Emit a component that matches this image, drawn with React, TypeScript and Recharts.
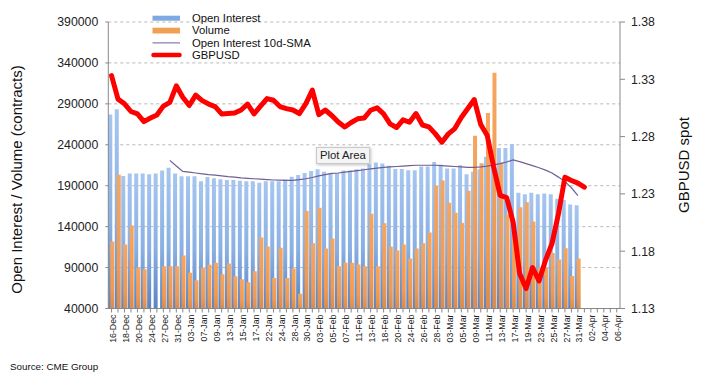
import React from 'react';
import { ComposedChart, Bar, Line, XAxis, YAxis, CartesianGrid } from 'recharts';

const FONT = '"Liberation Sans", Arial, Helvetica, sans-serif';

const dates = [
  '16-Dec','17-Dec','18-Dec','19-Dec','20-Dec','23-Dec','24-Dec','26-Dec','27-Dec','30-Dec','31-Dec',
  '02-Jan','03-Jan','06-Jan','07-Jan','08-Jan','09-Jan','10-Jan','13-Jan','14-Jan','15-Jan','16-Jan','17-Jan','21-Jan','22-Jan','23-Jan','24-Jan','27-Jan','28-Jan','29-Jan','30-Jan','31-Jan',
  '03-Feb','04-Feb','05-Feb','06-Feb','07-Feb','10-Feb','11-Feb','12-Feb','13-Feb','14-Feb','18-Feb','19-Feb','20-Feb','21-Feb','24-Feb','25-Feb','26-Feb','27-Feb','28-Feb',
  '02-Mar','03-Mar','04-Mar','05-Mar','06-Mar','09-Mar','10-Mar','11-Mar','12-Mar','13-Mar','16-Mar','17-Mar','18-Mar','19-Mar','20-Mar','23-Mar','24-Mar','25-Mar','26-Mar','27-Mar','30-Mar','31-Mar',
  '01-Apr','02-Apr','03-Apr','04-Apr','05-Apr','06-Apr'
];

const openInterest = [
  277000, 283500, 202000, 205000, 205000, 205000, 204000, 205000, 208500, 212000,
  205000, 201500, 201500, 201500, 195500, 200500, 199000, 198000, 197000, 197000,
  196000, 195500, 195500, 193500, 195500, 195500, 195500, 197500, 201000, 203000,
  205500, 208000, 210000, 207000, 205500, 205500, 208500, 208500, 210000, 211000,
  216000, 218500, 217000, 214500, 210500, 210500, 209000, 209000, 213500, 213500,
  219000, 215500, 211000, 211000, 215000, 204000, 207000, 210000, 225500, 229000,
  236000, 236000, 241000, 181500, 179500, 181500, 179500, 180500, 179500, 174000,
  172500, 167000, 166000
];

const volume = [
  121900, 203400, 118200, 141300, 89900, 87800, null, null, 91500, 91500,
  91500, 104800, 83800, 74400, 89900, 93500, 96000, 81700, 95100, 79300,
  75600, 72000, 85400, 126700, 115800, 77300, 114200, 77300, 89000, 58000,
  159200, 119800, 163200, 113400, 125500, 91500, 96000, 96000, 93900, 91500,
  155900, 91500, 144100, 115800, 110900, 118200, 101200, 113400, 119800, 132800,
  190400, 196400, 169300, 157100, 144500, 184000, 251000, 217400, 278900, 328100,
  218300, 155000, 130000, 163600, 169700, 146200, 90000, 89400, 107700, 100000,
  113700, 79700, 101200
];

const oiSma10 = [
  null, null, null, null, null, null, null, null, null, 221000,
  214000, 207500, 206500, 205500, 204500, 203500, 203000, 202000, 201000, 200500,
  199500, 199000, 198500, 198000, 197500, 197000, 196800, 196500, 196500, 197500,
  198500, 200000, 202000, 203500, 205000, 205500, 206500, 207500, 208500, 209500,
  210500, 211500, 212500, 213000, 213500, 214000, 214500, 215000, 215000, 215000,
  215000, 214500, 214000, 213500, 213000, 212500, 212500, 213000, 214000, 215500,
  217000, 219000, 221500, 219500, 217000, 214500, 212000, 209000, 205500, 200500,
  195000, 187500, 178000
];

const gbpusd = [
  1.3332, 1.3127, 1.3086, 1.3019, 1.2998, 1.2931, 1.2962, 1.2988, 1.3066, 1.3099,
  1.3243, 1.3143, 1.3071, 1.3162, 1.3114, 1.3084, 1.3062, 1.2998, 1.3001, 1.3005,
  1.3032, 1.3084, 1.2998, 1.3066, 1.3132, 1.3117, 1.3062, 1.3044, 1.3032, 1.3001,
  1.3088, 1.3206, 1.2992, 1.3032, 1.2984, 1.2927, 1.2884, 1.2923, 1.2955, 1.2962,
  1.3030, 1.3051, 1.2998, 1.2911, 1.2879, 1.2946, 1.2925, 1.3001, 1.2901, 1.2885,
  1.2824, 1.2751, 1.2824, 1.2870, 1.2966, 1.3045, 1.3123, 1.2905, 1.2809, 1.2533,
  1.2287, 1.2267, 1.2054, 1.1605, 1.1474, 1.1657, 1.1540, 1.1721, 1.1866, 1.2127,
  1.2446, 1.2417, 1.2394, 1.2359
];

const leftTicks = [40000, 90000, 140000, 190000, 240000, 290000, 340000, 390000];
const rightTicks = [1.13, 1.18, 1.23, 1.28, 1.33, 1.38];

const legendItems = [
  { label: 'Open Interest', kind: 'oi' },
  { label: 'Volume', kind: 'vol' },
  { label: 'Open Interest 10d-SMA', kind: 'sma' },
  { label: 'GBPUSD', kind: 'fx' },
];

const data = dates.map((d, i) => ({
  date: d,
  oi: openInterest[i] ?? null,
  vol: volume[i] ?? null,
  sma: oiSma10[i] ?? null,
  fx: gbpusd[i] ?? null,
}));

const XTick = (props: any) => {
  const { x, y, payload } = props;
  const idx = payload && typeof payload.index === 'number' ? payload.index : dates.indexOf(payload.value);
  if (idx % 2 !== 0) return <g />;
  const ax = x + 4.6;
  const ay = y;
  return (
    <text x={ax} y={ay} transform={`rotate(-90 ${ax} ${ay})`} textAnchor="end" fontSize={8.8} fill="#222" fontFamily={FONT}>
      {payload.value}
    </text>
  );
};

export default function App() {
  const legendRows = [22, 34.3, 46.7, 58.7];
  return (
    <div style={{ position: 'absolute', left: 0, top: 0, width: 701, height: 383, background: '#fff', fontFamily: FONT, overflow: 'hidden' }}>
      <svg width={0} height={0} style={{ position: 'absolute' }}>
        <defs>
          <linearGradient id="oiGrad" x1="0" y1="0" x2="0" y2="1">
            <stop offset="0%" stopColor="#a6c6f0" />
            <stop offset="55%" stopColor="#8ab0e4" />
            <stop offset="100%" stopColor="#5a84c2" />
          </linearGradient>
          <linearGradient id="volGrad" x1="0" y1="0" x2="0" y2="1">
            <stop offset="0%" stopColor="#f6a660" />
            <stop offset="70%" stopColor="#f09a52" />
            <stop offset="100%" stopColor="#d98c50" />
          </linearGradient>
        </defs>
      </svg>
      <ComposedChart
        width={701}
        height={383}
        data={data}
        margin={{ top: 22, right: 26, bottom: 14.5, left: 48.3 }}
        barCategoryGap={0}
        barGap={-2}
      >
        <CartesianGrid yAxisId="left" vertical={false} stroke="#b8b8b8" strokeDasharray="3 3" />
        <XAxis
          dataKey="date"
          interval={0}
          height={60}
          tick={<XTick />}
          tickSize={4}
          tickLine={{ stroke: '#888' }}
          axisLine={{ stroke: '#888' }}
        />
        <YAxis
          yAxisId="left"
          width={60}
          domain={[40000, 390000]}
          ticks={leftTicks}
          allowDataOverflow
          interval={0}
          tickSize={3}
          tickMargin={7}
          tick={{ fontSize: 12.3, fill: '#222', fontFamily: FONT }}
          axisLine={{ stroke: '#888' }}
          tickLine={{ stroke: '#888' }}
        />
        <YAxis
          yAxisId="right"
          orientation="right"
          width={55}
          domain={[1.13, 1.38]}
          ticks={rightTicks}
          allowDataOverflow
          interval={0}
          tickFormatter={(v: number) => v.toFixed(2)}
          tickSize={5}
          tickMargin={6}
          tick={{ fontSize: 12.3, fill: '#222', fontFamily: FONT }}
          axisLine={{ stroke: '#888' }}
          tickLine={{ stroke: '#888' }}
        />
        <Bar yAxisId="left" dataKey="oi" fill="url(#oiGrad)" isAnimationActive={false} />
        <Bar yAxisId="left" dataKey="vol" fill="url(#volGrad)" isAnimationActive={false} />
        <Line yAxisId="left" type="linear" dataKey="sma" stroke="#6f5f96" strokeWidth={1.2} dot={false} activeDot={false} isAnimationActive={false} />
        <Line yAxisId="right" type="linear" dataKey="fx" stroke="#ff0000" strokeWidth={5} strokeLinejoin="round" strokeLinecap="round" dot={false} activeDot={false} isAnimationActive={false} />
      </ComposedChart>
      <svg width={701} height={383} style={{ position: 'absolute', left: 0, top: 0, pointerEvents: 'none' }} fontFamily={FONT}>
        {legendItems.map((it, i) => {
          const by = legendRows[i];
          const cy = by - 3.8;
          let swatch: any = null;
          if (it.kind === 'oi') swatch = <rect x={152.5} y={cy - 2.5} width={27.5} height={5} fill="#7fa9e2" />;
          if (it.kind === 'vol') swatch = <rect x={152.5} y={cy - 2.8} width={27.5} height={5.8} fill="#f0a055" />;
          if (it.kind === 'sma') swatch = <line x1={152.5} x2={180} y1={cy} y2={cy} stroke="#6f5f96" strokeWidth={1} />;
          if (it.kind === 'fx') swatch = <line x1={153.5} x2={179.5} y1={cy} y2={cy} stroke="#ff0000" strokeWidth={4.5} strokeLinecap="round" />;
          return (
            <g key={it.label}>
              {swatch}
              <text x={192} y={by} fontSize={11.3} fill="#111">{it.label}</text>
            </g>
          );
        })}
        <text x={21.5} y={179.5} transform="rotate(-90 21.5 179.5)" textAnchor="middle" fontSize={15} fill="#111">
          Open Interest / Volume (contracts)
        </text>
        <text x={688.5} y={165} transform="rotate(-90 688.5 165)" textAnchor="middle" fontSize={15} fill="#111">
          GBPUSD spot
        </text>
        <text x={10} y={370} fontSize={9.8} fill="#111">Source: CME Group</text>
      </svg>
      <div
        style={{
          position: 'absolute', left: 316, top: 147, width: 54, height: 17, boxSizing: 'border-box',
          background: '#f4f4f4', border: '1px solid #c9c9c9', boxShadow: '1px 1px 3px rgba(0,0,0,0.25)',
          fontSize: 11.3, lineHeight: '15px', paddingLeft: 3, color: '#222', whiteSpace: 'nowrap', fontFamily: FONT,
        }}
      >
        Plot Area
      </div>
    </div>
  );
}
